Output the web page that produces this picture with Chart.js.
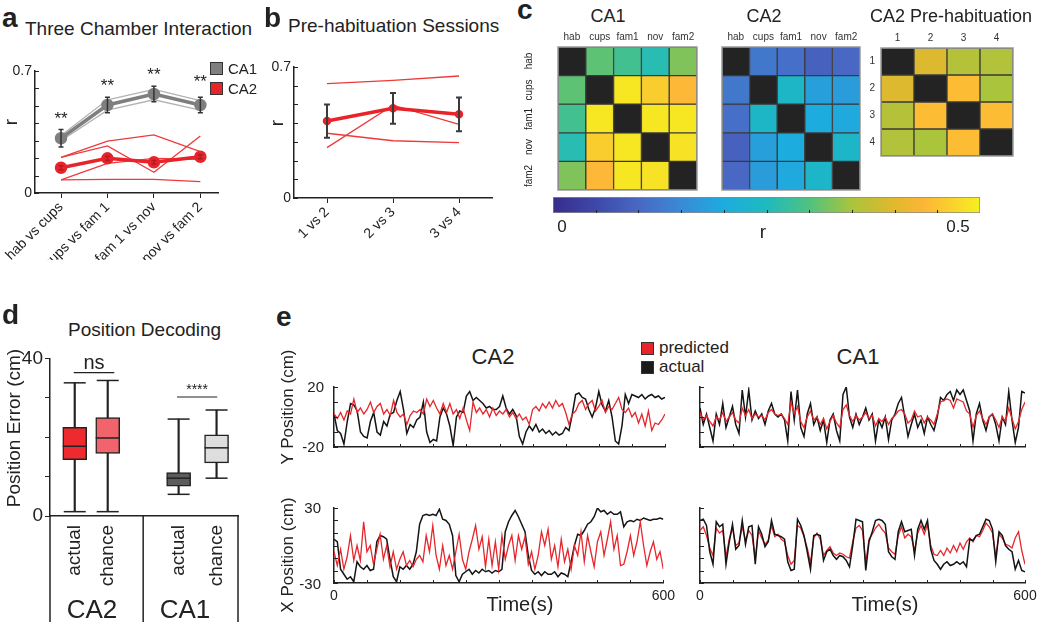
<!DOCTYPE html>
<html>
<head>
<meta charset="utf-8">
<title>Place cell correlation figure</title>
<script src="https://cdn.jsdelivr.net/npm/chart.js@4.4.1/dist/chart.umd.min.js"></script>
<style>
  body { margin: 0; width: 1050px; height: 622px; position: relative; overflow: hidden; background: #fff;
         font-family: "Liberation Sans", Arial, sans-serif; color: #222; }
  canvas { position: absolute; }
  .lbl { position: absolute; white-space: nowrap; line-height: 1; }
  .sq { position: absolute; width: 11px; height: 11px; border: 1px solid #333; }
</style>
</head>
<body>
<div class="sq" style="left:210px;top:62px;background:#7f7f7f"></div>
<div class="sq" style="left:210px;top:82px;background:#e8242b"></div>
<div class="sq" style="left:641px;top:342px;background:#e8242b"></div>
<div class="sq" style="left:641px;top:361px;background:#1a1a1a"></div>
<script>
// ---------- data: panel a ----------
const pairsA = ['hab vs cups', 'cups vs fam 1', 'fam 1 vs nov', 'nov vs fam 2'];
const ca1Mean = [0.314, 0.505, 0.568, 0.505];
const ca1Err = [0.05, 0.045, 0.045, 0.045];
const ca1Lines = [[0.33, 0.535, 0.595, 0.53], [0.30, 0.475, 0.535, 0.475]];
const ca2Mean = [0.145, 0.199, 0.176, 0.208];
const ca2Err = [0.012, 0.012, 0.01, 0.012];
const ca2Lines = [[0.205, 0.298, 0.333, 0.237], [0.205, 0.27, 0.119, 0.327],
                  [0.075, 0.17, 0.199, 0.193], [0.075, 0.078, 0.078, 0.065]];
const starsA = [0.395, 0.585, 0.648, 0.608];
const yTicksR = [0, 0.1, 0.2, 0.3, 0.4, 0.5, 0.6, 0.7];
const yLabelsR = ['0', '', '', '', '', '', '', '0.7'];

// ---------- data: panel b ----------
const pairsB = ['1 vs 2', '2 vs 3', '3 vs 4'];
const preMean = [0.411, 0.479, 0.447];
const preErr = [0.089, 0.082, 0.09];
const preLines = [[0.611, 0.628, 0.652], [0.346, 0.306, 0.296], [0.269, 0.496, 0.394]];

// ---------- data: panel c ----------
const sessNames = ['hab', 'cups', 'fam1', 'nov', 'fam2'];
const preNames = ['1', '2', '3', '4'];
const ca1Mat = [
  [null, 0.308, 0.287, 0.26, 0.327],
  [0.308, null, 0.49, 0.462, 0.437],
  [0.287, 0.49, null, 0.49, 0.49],
  [0.26, 0.462, 0.49, null, 0.485],
  [0.327, 0.437, 0.49, 0.485, null]
];
const ca2Mat = [
  [null, 0.123, 0.11, 0.09, 0.1],
  [0.123, null, 0.236, 0.181, 0.176],
  [0.11, 0.236, null, 0.2, 0.195],
  [0.09, 0.181, 0.2, null, 0.235],
  [0.1, 0.176, 0.195, 0.235, null]
];
const preMat = [
  [null, 0.395, 0.36, 0.357],
  [0.395, null, 0.443, 0.35],
  [0.36, 0.443, null, 0.443],
  [0.357, 0.35, 0.443, null]
];
const cbMin = 0, cbMax = 0.5;
const cbTicks = [0.05, 0.1, 0.15, 0.2, 0.25, 0.3, 0.35, 0.4, 0.45];

// ---------- data: panel d ----------
const boxNames = ['actual', 'chance', 'actual', 'chance'];
const boxPos = [0, 1, 3.15, 4.3];
const boxMin = [1.1, 1.1, 5.5, 9.6];
const boxQ1 = [14.3, 15.9, 7.6, 13.5];
const boxMed = [17.7, 19.8, 9.6, 17.3];
const boxQ3 = [22.5, 25.0, 11.0, 20.6];
const boxMax = [33.8, 34.4, 24.6, 26.9];
const boxColors = ['#ee2a2f', '#f2646b', '#5c5c5c', '#dedede'];
const yTicksD = [0, 10, 20, 30, 40];
const yLabelsD = ['0', '', '', '', '40'];
const sigMarks = [
  { from: -0.03, to: 1.2, line: 36.4, text: 'ns', textY: 37.4, size: 20 },
  { from: 3.1, to: 4.32, line: 30.2, text: '****', textY: 30.9, size: 14 }
];

// ---------- data: panel e ----------
const timeS = [0,6,12,18,24,30,36,42,48,54,60,66,72,78,84,90,96,102,108,114,120,126,132,138,144,150,
  156,162,168,174,180,186,192,198,204,210,216,222,228,234,240,246,252,258,264,270,276,282,288,294,300,
  306,312,318,324,330,336,342,348,354,360,366,372,378,384,390,396,402,408,414,420,426,432,438,444,450,
  456,462,468,474,480,486,492,498,504,510,516,522,528,534,540,546,552,558,564,570,576,582,588,594,600];
const timeTicks = [0, 60, 120, 180, 240, 300, 360, 420, 480, 540, 600];
const timeLabelTicks = [0, 600];

const ca2YAct = [2,-9,-11,-18,-3,9,8,4,-10,-13,
  -14,-3,3,-10,-12,-3,-6,2,3,11,
  17,5,-11,-5,-7,-2,0,10,-10,-17,
  -15,-16,0,6,2,-6,-19,0,4,3,
  14,17,11,13,11,9,6,7,5,5,
  7,14,6,2,5,1,-13,-18,-10,-6,
  -9,-5,-10,-8,-11,-9,-12,-10,-12,-11,
  -7,-9,2,15,16,13,12,5,0,6,
  17,8,4,11,0,-16,-18,-6,15,9,
  15,14,13,15,12,14,15,13,14,12,
  13];
const ca2YPred = [2,-1,3,-2,4,2,12,3,6,2,
  5,10,3,7,9,2,5,1,11,3,
  0,2,-5,1,4,3,5,2,12,7,
  11,6,2,9,3,9,2,5,-1,6,
  -2,-9,10,3,6,2,5,0,6,1,
  4,2,5,0,3,-1,2,-2,0,-5,
  5,7,4,9,6,10,6,11,7,9,
  3,-5,2,4,9,11,5,9,11,4,
  7,11,3,7,5,9,13,5,3,6,
  0,3,-4,2,-6,4,-9,-4,-5,-2,
  2];
const ca2XAct = [5,3,-19,-23,-27,-25,-29,-13,-17,-19,
  -16,-20,-19,3,8,7,5,-11,-25,-29,
  -17,-19,-16,-19,-15,-5,17,24,25,24,
  25,24,29,21,20,17,8,-24,-29,-23,
  -21,-19,-23,-20,-22,-19,-21,-20,-22,-20,
  -21,-19,11,19,24,28,23,17,11,-8,
  -20,-23,-21,-24,-21,-23,-23,-21,-25,-22,
  -23,-25,-13,0,9,8,12,17,19,23,
  30,27,28,25,27,25,25,27,15,19,
  20,19,21,20,22,21,20,21,21,22,
  21];
const ca2XPred = [-5,-16,-3,-19,-9,8,-12,0,-12,19,
  -5,0,-15,-3,9,-11,0,-17,-5,-19,
  -11,-5,-16,-12,-17,-11,-8,-13,8,-5,
  16,-8,-19,0,-16,-8,-19,-5,9,-11,
  -19,-5,5,16,-3,7,-17,5,-16,3,
  -19,8,-11,0,8,-12,8,-3,7,-15,
  -5,-19,-8,11,0,13,-11,0,-17,5,
  -13,-3,-19,0,-8,11,-13,8,-5,-17,
  3,11,-8,5,19,-3,8,-16,-15,-5,
  8,-8,3,19,0,-16,-5,3,-11,-5,
  -19];
const ca1YAct = [6,-5,2,-7,-16,2,-5,9,-7,0,
  7,-5,-11,18,0,18,-2,4,-1,2,
  -5,4,9,2,0,2,-2,-16,17,-2,
  18,-7,-13,2,9,-5,0,-9,-2,-17,
  -2,2,-9,-16,15,20,0,-7,2,-5,
  0,6,-2,2,-16,-2,-7,0,-15,-2,
  2,9,13,0,-13,-5,2,-7,-2,-11,
  0,-5,-9,0,13,11,15,17,11,18,
  15,18,11,4,-16,2,9,-2,-9,0,
  2,-5,-16,0,-5,17,-2,-17,-7,17,
  16];
const ca1YPred = [3,-2,1,-3,-6,0,-2,3,-3,0,
  3,-2,-4,6,1,5,-1,2,0,1,
  -2,3,5,2,1,2,-1,-5,10,2,
  7,-3,-7,0,4,-2,0,-5,-1,-8,
  -3,1,-4,-7,5,8,1,-3,1,-2,
  0,3,-1,1,-6,-1,-3,0,-5,-1,
  1,4,5,2,-4,-2,4,0,1,-4,
  0,-2,-5,2,10,11,12,11,6,12,
  11,10,4,2,-7,1,4,-1,-5,0,
  2,-2,-7,0,-3,6,-1,-8,-3,5,
  10];
const ca1XAct = [20,21,16,-5,-15,19,15,17,-15,3,
  17,-3,0,20,1,15,16,-15,15,9,
  -1,3,20,9,8,7,5,-13,-20,-19,
  21,16,8,-5,-19,8,9,8,-12,-5,
  -3,-8,-11,-8,-9,-12,-17,0,21,20,
  19,-20,3,11,20,21,20,17,-5,-9,
  -11,11,19,11,12,13,-8,13,20,13,
  20,-3,-12,-15,-19,-15,-13,-16,-15,-13,
  -15,-13,-17,5,4,8,9,15,21,20,
  13,-13,11,8,0,-3,-5,-19,-12,-20,
  -21];
const ca1XPred = [12,15,8,-2,-8,14,10,12,-9,5,
  14,0,2,15,4,12,8,-10,12,6,
  1,4,16,7,9,5,3,-8,-15,-12,
  16,14,7,-2,-14,6,10,5,-8,-4,
  -1,-6,-8,-6,-7,-9,-10,3,14,16,
  12,-14,5,9,14,17,13,10,-2,-5,
  -7,8,15,6,9,7,-4,10,16,9,
  17,0,-7,-8,-4,-8,-2,-6,0,-5,
  2,-3,3,6,3,8,7,12,18,15,
  10,-9,9,6,1,0,-2,6,11,-4,
  -15];

// ---------- colormap ----------
const cmStops = [
  [0, [55, 45, 140]], [0.1, [62, 72, 168]], [0.2, [72, 104, 196]], [0.3, [58, 138, 214]],
  [0.4, [28, 172, 222]], [0.5, [30, 186, 190]], [0.6, [80, 194, 128]], [0.7, [170, 196, 60]],
  [0.8, [226, 184, 44]], [0.87, [252, 182, 55]], [0.94, [250, 212, 44]], [1, [245, 240, 30]]
];
function cmap(v) {
  const f = Math.min(1, Math.max(0, (v - cbMin) / (cbMax - cbMin)));
  for (let i = 1; i < cmStops.length; i++) {
    const [f0, c0] = cmStops[i - 1];
    const [f1, c1] = cmStops[i];
    if (f <= f1) {
      const t = (f - f0) / (f1 - f0);
      return 'rgb(' + c0.map((c, k) => Math.round(c + (c1[k] - c) * t)).join(',') + ')';
    }
  }
  return 'rgb(245,240,30)';
}

// ---------- helpers ----------
Chart.defaults.font.family = '"Liberation Sans", Arial, sans-serif';
Chart.defaults.color = '#222';
Chart.defaults.animation = false;
Chart.defaults.responsive = false;
Chart.defaults.plugins.legend.display = false;
Chart.defaults.plugins.tooltip.enabled = false;

function addCanvas(x, y, w, h) {
  const c = document.createElement('canvas');
  c.width = w; c.height = h;
  c.style.left = x + 'px'; c.style.top = y + 'px';
  c.style.width = w + 'px'; c.style.height = h + 'px';
  document.body.appendChild(c);
  return c;
}

function addLabel(text, x, y, size, opt = {}) {
  const d = document.createElement('div');
  d.className = 'lbl';
  d.textContent = text;
  d.style.fontSize = size + 'px';
  d.style.left = x + 'px';
  if (opt.bold) d.style.fontWeight = 'bold';
  if (opt.rot) {
    d.style.top = y + 'px';
    d.style.transform = 'translate(-50%, -50%) rotate(-90deg)';
  } else {
    d.style.top = (y - 0.85 * size) + 'px';
    if (opt.center) d.style.transform = 'translateX(-50%)';
    if (opt.right) d.style.transform = 'translateX(-100%)';
  }
  document.body.appendChild(d);
}

const fixW = w => s => { s.width = w; };
const fixH = h => s => { s.height = h; };
const setTicks = vals => s => { s.ticks = vals.map(v => ({ value: v })); };
const pts = arr => arr.map((v, i) => ({ x: i, y: v }));
const tpts = arr => arr.map((v, i) => ({ x: timeS[i], y: v }));

// small inward tick marks, matlab style
function tickMarks(specs) {
  return {
    id: 'tickMarks',
    afterDraw(chart) {
      const ctx = chart.ctx, a = chart.chartArea;
      ctx.save();
      ctx.strokeStyle = '#222';
      ctx.lineWidth = 1;
      specs.forEach(s => {
        const sc = chart.scales[s.axis];
        s.values.forEach(v => {
          const p = Math.round(sc.getPixelForValue(v)) + 0.5;
          ctx.beginPath();
          if (sc.isHorizontal()) { ctx.moveTo(p, a.bottom); ctx.lineTo(p, a.bottom - s.len); }
          else { ctx.moveTo(a.left, p); ctx.lineTo(a.left + s.len, p); }
          ctx.stroke();
        });
      });
      ctx.restore();
    }
  };
}

function errorBars(list) {
  return {
    id: 'errorBars',
    afterDatasetsDraw(chart) {
      const ctx = chart.ctx, ys = chart.scales.y;
      ctx.save();
      list.forEach(b => {
        const meta = chart.getDatasetMeta(b.ds);
        ctx.strokeStyle = b.color;
        ctx.lineWidth = b.width;
        meta.data.forEach((pt, i) => {
          const top = ys.getPixelForValue(b.mean[i] + b.err[i]);
          const bot = ys.getPixelForValue(b.mean[i] - b.err[i]);
          ctx.beginPath();
          ctx.moveTo(pt.x, top); ctx.lineTo(pt.x, bot);
          ctx.moveTo(pt.x - b.cap, top); ctx.lineTo(pt.x + b.cap, top);
          ctx.moveTo(pt.x - b.cap, bot); ctx.lineTo(pt.x + b.cap, bot);
          ctx.stroke();
        });
      });
      ctx.restore();
    }
  };
}

function textMarks(list, size) {
  return {
    id: 'textMarks',
    afterDraw(chart) {
      const ctx = chart.ctx;
      ctx.save();
      ctx.fillStyle = '#222';
      ctx.textAlign = 'center';
      ctx.font = size + 'px "Liberation Sans", Arial, sans-serif';
      list.forEach(t => ctx.fillText(t.text, chart.scales.x.getPixelForValue(t.x), chart.scales.y.getPixelForValue(t.y)));
      ctx.restore();
    }
  };
}

const frame = {
  id: 'frame',
  afterDraw(chart) {
    const a = chart.chartArea, ctx = chart.ctx;
    ctx.save();
    ctx.strokeStyle = '#9a9a9a';
    ctx.lineWidth = 1.5;
    ctx.strokeRect(a.left, a.top, a.right - a.left, a.bottom - a.top);
    ctx.restore();
  }
};

const axisLine = { color: '#222', width: 1.5 };

// ---------- panel a ----------
new Chart(addCanvas(0, 50, 262, 210), {
  type: 'line',
  data: {
    datasets: [
      { data: pts(ca1Mean), borderColor: '#7f7f7f', backgroundColor: '#7f7f7f', borderWidth: 3.5, pointRadius: 4.5 },
      { data: pts(ca2Mean), borderColor: '#e8242b', backgroundColor: '#e8242b', borderWidth: 3.5, pointRadius: 4.5 },
      ...ca1Lines.map(l => ({ data: pts(l), borderColor: '#b3b3b3', borderWidth: 1.3, pointRadius: 0 })),
      ...ca2Lines.map(l => ({ data: pts(l), borderColor: '#ee3a3a', borderWidth: 1.3, pointRadius: 0 }))
    ]
  },
  options: {
    layout: { padding: { top: 21, right: 44, left: 0, bottom: 0 }, autoPadding: false },
    scales: {
      x: {
        type: 'linear', min: -0.56, max: 3.38, bounds: 'data',
        afterBuildTicks: setTicks([0, 1, 2, 3]), afterFit: fixH(67),
        ticks: { autoSkip: false, minRotation: 45, maxRotation: 45, font: { size: 14 }, padding: 1, callback: (v, i) => pairsA[i] },
        grid: { drawOnChartArea: false, tickLength: 5, color: '#222' },
        border: axisLine
      },
      y: {
        min: 0, max: 0.7, afterBuildTicks: setTicks(yTicksR), afterFit: fixW(35),
        ticks: { autoSkip: false, font: { size: 14 }, padding: 3, callback: (v, i) => yLabelsR[i] },
        grid: { display: false, drawTicks: false },
        border: axisLine
      }
    }
  },
  plugins: [
    tickMarks([{ axis: 'y', values: yTicksR, len: 4 }]),
    errorBars([
      { ds: 0, mean: ca1Mean, err: ca1Err, color: '#333', width: 1.5, cap: 2.5 },
      { ds: 1, mean: ca2Mean, err: ca2Err, color: '#b01c20', width: 1.5, cap: 2.5 }
    ]),
    textMarks(starsA.map((y, i) => ({ x: i, y: y, text: '**' })), 17)
  ]
});

// ---------- panel b ----------
new Chart(addCanvas(266, 50, 240, 210), {
  type: 'line',
  data: {
    datasets: [
      { data: pts(preMean), borderColor: '#e8242b', backgroundColor: '#e8242b', borderWidth: 3.5, pointRadius: 2.5 },
      ...preLines.map(l => ({ data: pts(l), borderColor: '#ee3a3a', borderWidth: 1.3, pointRadius: 0 }))
    ]
  },
  options: {
    layout: { padding: { top: 17, right: 14, left: 0, bottom: 0 }, autoPadding: false },
    scales: {
      x: {
        type: 'linear', min: -0.5, max: 2.5, bounds: 'data',
        afterBuildTicks: setTicks([0, 1, 2]), afterFit: fixH(62),
        ticks: { autoSkip: false, minRotation: 45, maxRotation: 45, font: { size: 14 }, padding: 1, callback: (v, i) => pairsB[i] },
        grid: { drawOnChartArea: false, tickLength: 5, color: '#222' },
        border: axisLine
      },
      y: {
        min: 0, max: 0.7, afterBuildTicks: setTicks(yTicksR), afterFit: fixW(28),
        ticks: { autoSkip: false, font: { size: 14 }, padding: 3, callback: (v, i) => yLabelsR[i] },
        grid: { display: false, drawTicks: false },
        border: axisLine
      }
    }
  },
  plugins: [
    tickMarks([{ axis: 'y', values: yTicksR, len: 4 }]),
    errorBars([{ ds: 0, mean: preMean, err: preErr, color: '#3a3a3a', width: 2, cap: 3 }])
  ]
});

// ---------- panel c: heatmaps ----------
function heatmap(canvas, names, mat, pad, showRows) {
  return new Chart(canvas, {
    type: 'bar',
    data: {
      labels: names,
      datasets: mat.map((row, r) => ({
        data: row.map(() => [r, r + 1]),
        backgroundColor: row.map(v => v === null ? '#232323' : cmap(v)),
        borderColor: '#3a3a3a', borderWidth: 1, borderSkipped: false,
        grouped: false, barPercentage: 1, categoryPercentage: 1
      }))
    },
    options: {
      layout: { padding: pad, autoPadding: false },
      scales: {
        x: {
          position: 'top', afterFit: fixH(pad.xh),
          ticks: { autoSkip: false, minRotation: 0, maxRotation: 0, font: { size: 10 }, padding: 4, color: '#333' },
          grid: { display: false, drawTicks: false }, border: { display: false }
        },
        y: {
          display: showRows, reverse: true, min: 0, max: names.length,
          afterBuildTicks: setTicks(names.map((n, i) => i + 0.5)), afterFit: fixW(23),
          ticks: { autoSkip: false, font: { size: 10 }, padding: 6, color: '#333', callback: (v, i) => names[i] },
          grid: { display: false, drawTicks: false }, border: { display: false }
        }
      }
    },
    plugins: [frame]
  });
}
heatmap(addCanvas(520, 28, 180, 164), sessNames, ca1Mat, { left: 15, right: 3, top: 0, bottom: 2, xh: 19 }, false);
heatmap(addCanvas(698, 28, 164, 164), sessNames, ca2Mat, { left: 1, right: 2, top: 0, bottom: 2, xh: 19 }, false);
heatmap(addCanvas(858, 28, 160, 140), preNames, preMat, { left: 0, right: 5, top: 0, bottom: 3, xh: 20 }, true);

// colour bar
function cbGradient(chart) {
  const a = chart.chartArea;
  if (!a) return '#888';
  const g = chart.ctx.createLinearGradient(a.left, 0, a.right, 0);
  cmStops.forEach(s => g.addColorStop(s[0], 'rgb(' + s[1].join(',') + ')'));
  return g;
}
new Chart(addCanvas(548, 192, 440, 26), {
  type: 'bar',
  data: {
    labels: ['r'],
    datasets: [{
      data: [[cbMin, cbMax]], backgroundColor: c => cbGradient(c.chart),
      borderColor: '#8a8a8a', borderWidth: 1, borderSkipped: false,
      barPercentage: 1, categoryPercentage: 1
    }]
  },
  options: {
    indexAxis: 'y',
    layout: { padding: { left: 5, right: 8, top: 5, bottom: 5 }, autoPadding: false },
    scales: {
      x: { type: 'linear', min: cbMin, max: cbMax, display: false },
      y: { display: false }
    }
  },
  plugins: [tickMarks([{ axis: 'x', values: cbTicks, len: 3 }])]
});

// ---------- panel d: box plot ----------
const boxExtras = {
  id: 'boxExtras',
  afterDatasetsDraw(chart) {
    const ctx = chart.ctx, xs = chart.scales.x, ys = chart.scales.y, a = chart.chartArea;
    ctx.save();
    ctx.strokeStyle = '#222';
    ctx.fillStyle = '#222';
    ctx.lineWidth = 1.5;
    boxPos.forEach((p, i) => {
      const x = xs.getPixelForValue(p);
      [[boxMin[i], 11], [boxMax[i], 11], [boxMed[i], 12]].forEach(([v, hw]) => {
        const y = ys.getPixelForValue(v);
        ctx.beginPath(); ctx.moveTo(x - hw, y); ctx.lineTo(x + hw, y); ctx.stroke();
      });
    });
    sigMarks.forEach(s => {
      const y = ys.getPixelForValue(s.line);
      ctx.lineWidth = 1.2;
      ctx.beginPath();
      ctx.moveTo(xs.getPixelForValue(s.from), y);
      ctx.lineTo(xs.getPixelForValue(s.to), y);
      ctx.stroke();
      ctx.font = s.size + 'px "Liberation Sans", Arial, sans-serif';
      ctx.textAlign = 'center';
      ctx.fillText(s.text, xs.getPixelForValue((s.from + s.to) / 2), ys.getPixelForValue(s.textY));
    });
    // table frame under the axis
    ctx.lineWidth = 1.5;
    const xd = xs.getPixelForValue((boxPos[1] + boxPos[2]) / 2);
    [a.left, xd, a.right].forEach(x => {
      ctx.beginPath(); ctx.moveTo(x, a.bottom); ctx.lineTo(x, chart.height); ctx.stroke();
    });
    ctx.restore();
  }
};
new Chart(addCanvas(0, 345, 250, 277), {
  type: 'bar',
  data: {
    datasets: [
      {
        data: boxPos.map((p, i) => ({ x: p, y: [boxQ1[i], boxQ3[i]] })),
        backgroundColor: boxColors, borderColor: '#222', borderWidth: 1.5, borderSkipped: false,
        barThickness: 24, grouped: false
      },
      {
        data: boxPos.map((p, i) => ({ x: p, y: [boxMin[i], boxMax[i]] })),
        backgroundColor: '#222', borderWidth: 0, barThickness: 1.5, grouped: false
      }
    ]
  },
  options: {
    layout: { padding: { top: 12, right: 12, left: 0, bottom: 0 }, autoPadding: false },
    scales: {
      x: {
        type: 'linear', min: -0.75, max: 4.95, bounds: 'data', offset: false,
        afterBuildTicks: setTicks(boxPos), afterFit: fixH(106),
        ticks: { autoSkip: false, minRotation: 90, maxRotation: 90, font: { size: 19 }, padding: 9, callback: (v, i) => boxNames[i] },
        grid: { display: false, drawTicks: false, offset: false },
        border: axisLine
      },
      y: {
        min: 0, max: 40, afterBuildTicks: setTicks(yTicksD), afterFit: fixW(50),
        ticks: { autoSkip: false, font: { size: 19 }, padding: 2, callback: (v, i) => yLabelsD[i] },
        grid: { drawOnChartArea: false, tickLength: 5, color: '#222' },
        border: axisLine
      }
    }
  },
  plugins: [boxExtras]
});

// ---------- panel e: decoded position traces ----------
function traceChart(x, y, w, h, o) {
  const black = { data: tpts(o.actual), borderColor: '#141414', borderWidth: 1.5, pointRadius: 0 };
  const red = { data: tpts(o.pred), borderColor: '#e5262b', borderWidth: 1.3, pointRadius: 0 };
  return new Chart(addCanvas(x, y, w, h), {
    type: 'line',
    data: { datasets: o.redOnTop ? [red, black] : [black, red] },
    options: {
      layout: { padding: o.pad, autoPadding: false },
      scales: {
        x: {
          type: 'linear', min: 0, max: 600, bounds: 'data',
          afterBuildTicks: setTicks(timeLabelTicks), afterFit: fixH(o.xh),
          ticks: { display: o.showTime, font: { size: 14 }, padding: 5, callback: v => String(v) },
          grid: { display: false, drawTicks: false }, border: axisLine
        },
        y: {
          min: -o.lim, max: o.lim, afterFit: fixW(o.yw),
          ticks: { display: false },
          grid: { display: false, drawTicks: false }, border: axisLine
        }
      }
    },
    plugins: [tickMarks([{ axis: 'x', values: timeTicks, len: 3 }, { axis: 'y', values: o.yTicks, len: 4 }])]
  });
}
const yTicks20 = [-20, -10, 0, 10, 20];
const yTicks30 = [-30, -20, -10, 0, 10, 20, 30];
traceChart(290, 378, 390, 75, { actual: ca2YAct, pred: ca2YPred, lim: 20, yTicks: yTicks20, yw: 44, xh: 6,
  pad: { top: 9, right: 15, left: 0, bottom: 0 }, showTime: false, redOnTop: true });
traceChart(290, 498, 390, 110, { actual: ca2XAct, pred: ca2XPred, lim: 30, yTicks: yTicks30, yw: 44, xh: 25,
  pad: { top: 10, right: 15, left: 0, bottom: 0 }, showTime: true, redOnTop: true });
traceChart(690, 378, 355, 75, { actual: ca1YAct, pred: ca1YPred, lim: 20, yTicks: yTicks20, yw: 10, xh: 6,
  pad: { top: 9, right: 20, left: 0, bottom: 0 }, showTime: false, redOnTop: true });
traceChart(690, 498, 355, 110, { actual: ca1XAct, pred: ca1XPred, lim: 30, yTicks: yTicks30, yw: 10, xh: 25,
  pad: { top: 10, right: 20, left: 0, bottom: 0 }, showTime: true, redOnTop: false });

// ---------- text ----------
addLabel('a', 2, 28, 28, { bold: true });
addLabel('Three Chamber Interaction', 25, 35, 19);
addLabel('r', 10, 122, 19, { rot: true });
addLabel('CA1', 228, 74, 15);
addLabel('CA2', 228, 94, 15);

addLabel('b', 264, 28, 28, { bold: true });
addLabel('Pre-habituation Sessions', 288, 32, 19);
addLabel('r', 276, 123, 19, { rot: true });

addLabel('c', 517, 20, 28, { bold: true });
addLabel('CA1', 608, 22, 18, { center: true });
addLabel('CA2', 764, 22, 18, { center: true });
addLabel('CA2 Pre-habituation', 870, 22, 18);
sessNames.forEach((n, i) => addLabel(n, 529, 61.3 + 28.6 * i, 10, { rot: true }));
addLabel('0', 562, 232, 17, { center: true });
addLabel('0.5', 958, 232, 17, { center: true });
addLabel('r', 763, 238, 19, { center: true });

addLabel('d', 2, 325, 28, { bold: true });
addLabel('Position Decoding', 68, 336, 19);
addLabel('Position Error (cm)', 13, 428, 19, { rot: true });
addLabel('CA2', 92, 618, 26, { center: true });
addLabel('CA1', 185, 618, 26, { center: true });

addLabel('e', 276, 327, 28, { bold: true });
addLabel('CA2', 493, 365, 22, { center: true });
addLabel('CA1', 858, 365, 22, { center: true });
addLabel('predicted', 659, 353, 17);
addLabel('actual', 659, 372, 17);
addLabel('Y Position (cm)', 287, 407, 17, { rot: true });
addLabel('X Position (cm)', 287, 555, 17, { rot: true });
addLabel('20', 324, 392, 15, { right: true });
addLabel('-20', 324, 452, 15, { right: true });
addLabel('30', 321, 513, 15, { right: true });
addLabel('-30', 321, 589, 15, { right: true });
addLabel('Time(s)', 520, 611, 20, { center: true });
addLabel('Time(s)', 885, 611, 20, { center: true });
</script>
</body>
</html>
